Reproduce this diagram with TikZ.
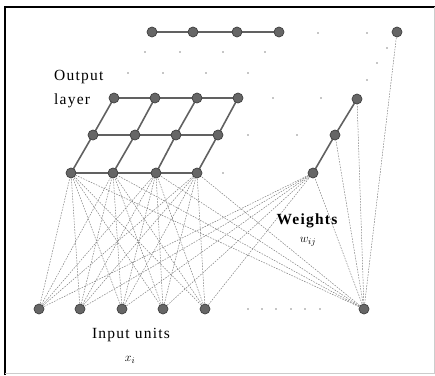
\documentclass[tikz,border=0pt]{standalone}
\usepackage{fontspec}
\usetikzlibrary{backgrounds}
\setmainfont{Liberation Serif}
\newfontfamily\spaced[LetterSpace=8]{Liberation Serif}
\begin{document}
\begin{tikzpicture}[x=1pt,y=-1pt,
  unit/.style={circle,fill=black!60,draw=black!75,line width=0.7pt,minimum size=10pt,inner sep=0pt},
  gridline/.style={draw=black!62,line width=1.6pt},
  conn/.style={draw=black!50,line width=0.5pt,dash pattern=on 1.6pt off 1.2pt},
  dotc/.style={fill=black!45},
  lbl/.style={font=\spaced\fontsize{15.5}{16}\selectfont,inner sep=0pt}]
\useasboundingbox (0,0) rectangle (435,375);
% frame
\draw[line width=2pt,black] (5,375) -- (5,7) -- (435,7);
\draw[line width=0.8pt,black!20] (434,7) -- (434,373) -- (5,373);

% input units
\foreach \n/\x in {1/39,2/80,3/122,4/163,5/205,6/364}
  \node[unit] (i\n) at (\x,309) {};
% output layer units
\foreach \n/\x in {1/71,2/113,3/156,4/197}
  \node[unit] (b\n) at (\x,173) {};
\foreach \n/\x in {1/93,2/135,3/176,4/218}
  \node[unit] (m\n) at (\x,135) {};
\foreach \n/\x in {1/114,2/155,3/197,4/238}
  \node[unit] (g\n) at (\x,98) {};
\foreach \n/\x in {1/152,2/193,3/237,4/279}
  \node[unit] (u\n) at (\x,32) {};
\node[unit] (r1) at (313,173) {};
\node[unit] (r2) at (335,135) {};
\node[unit] (r3) at (357,99) {};
\node[unit] (t) at (397,32) {};

\begin{scope}[on background layer]
% connections (weights)
\foreach \i in {1,...,6}{
  \foreach \o in {b1,b2,b3,b4,r1}
    \draw[conn] (i\i.center) -- (\o.center);
}
\draw[conn] (i6.center) -- (r2.center);
\draw[conn] (i6.center) -- (r3.center);
\draw[conn] (i6.center) -- (t.center);
% grid lines
\draw[gridline] (b1.center) -- (b2.center) -- (b3.center) -- (b4.center);
\draw[gridline] (m1.center) -- (m2.center) -- (m3.center) -- (m4.center);
\draw[gridline] (g1.center) -- (g2.center) -- (g3.center) -- (g4.center);
\draw[gridline] (u1.center) -- (u2.center) -- (u3.center) -- (u4.center);
\foreach \k in {1,...,4}
  \draw[gridline] (b\k.center) -- (m\k.center) -- (g\k.center);
\draw[gridline] (r1.center) -- (r2.center) -- (r3.center);
\end{scope}

% ellipsis dots
\foreach \p in {(145,52),(180,52),(223,52),(265,52),
                (128,73),(163,73),(206,73),(248,73),
                (318,33),(367,33),(273,98),(321,98),
                (248,135),(297,135),(223,173),
                (387,48),(377,63),(367,80),
                (248,309),(262,309),(276,309),(291,309),(305,309),(320,309)}
  \fill[dotc] \p circle (0.9);

% labels
\node[lbl,anchor=west] (lout) at (54,77) {Output};
\node[lbl,anchor=west] (llay) at (54,101) {layer};
\node[lbl,font=\spaced\bfseries\fontsize{15.5}{16}\selectfont] (lw) at (307,221) {Weights};
\node[inner sep=0pt,font=\fontsize{12.5}{13}\selectfont] (lwij) at (308,242) {$w_{ij}$};
\node[lbl] (lin) at (131,335) {Input units};
\node[inner sep=0pt,font=\fontsize{12.5}{13}\selectfont] (lxi) at (130,360) {$x_i$};
\end{tikzpicture}
\end{document}
